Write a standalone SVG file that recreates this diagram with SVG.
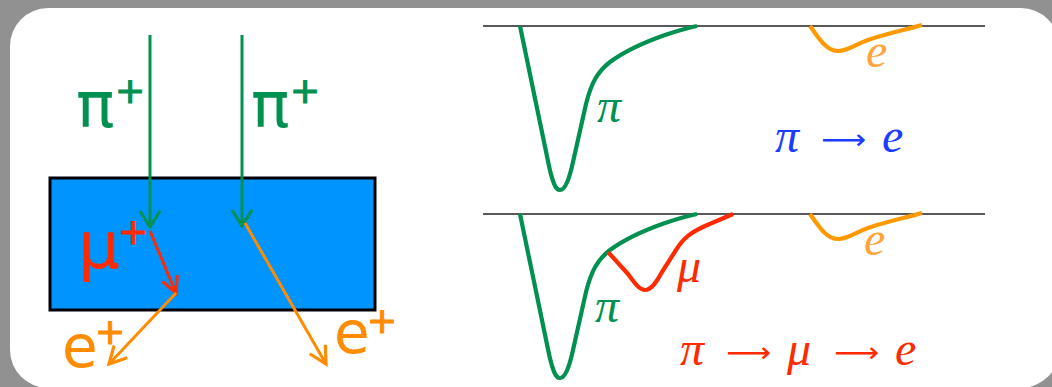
<svg xmlns="http://www.w3.org/2000/svg" width="1052" height="387" viewBox="0 0 1052 387">
<style>
.sans{font-family:"DejaVu Sans","Liberation Sans",sans-serif;}
.big{font-size:64px;}
.sup{font-size:36px;stroke-width:1.2px;}
.math{font-family:"Liberation Serif","DejaVu Serif",serif;font-style:italic;font-size:48px;}
.arr{font-family:"DejaVu Sans","Liberation Sans",sans-serif;font-size:28px;}
.g{fill:#009150;stroke:#009150;stroke-width:0;}
.r{fill:#ff2a00;stroke:#ff2a00;stroke-width:0;}
.o{fill:#ff8c00;stroke:#ff8c00;stroke-width:0;}
.ol{fill:#ffa43a;}
.b{fill:#1a3cff;}
.sup.g,.sup.r,.sup.o{stroke-width:1.2px;}
.curve{fill:none;stroke-width:4.2;stroke-linejoin:round;stroke-linecap:butt;}
.base{stroke:#222;stroke-width:1.3;}
</style>
<defs>
<marker id="mg" markerUnits="userSpaceOnUse" markerWidth="40" markerHeight="40" viewBox="-20 -20 40 40" refX="0" refY="0" orient="auto" overflow="visible">
<path d="M-16,-10 L0,0 L-16,10" fill="none" stroke="#009150" stroke-width="3.2"/>
</marker>
<marker id="mr" markerUnits="userSpaceOnUse" markerWidth="40" markerHeight="40" viewBox="-20 -20 40 40" refX="0" refY="0" orient="auto" overflow="visible">
<path d="M-16,-8 L0,0 L-16,8" fill="none" stroke="#ff2a00" stroke-width="3.2"/>
</marker>
<marker id="mo" markerUnits="userSpaceOnUse" markerWidth="40" markerHeight="40" viewBox="-20 -20 40 40" refX="0" refY="0" orient="auto" overflow="visible">
<path d="M-17,-9 L0,0 L-17,9" fill="none" stroke="#ff8c00" stroke-width="3.2"/>
</marker>
</defs>
<rect x="0" y="0" width="1052" height="387" fill="#919191"/>
<rect x="10" y="8" width="1049" height="380" rx="38" fill="#ffffff"/>

<g id="target">
<rect x="50" y="178" width="325" height="132" fill="#0094ff" stroke="#000" stroke-width="3"/>
</g>

<g id="labels-left">
<text class="sans big g" x="76" y="127">π</text><text class="sans sup g" x="115" y="103">+</text>
<text class="sans big g" x="251" y="127">π</text><text class="sans sup g" x="290" y="103">+</text>
<text class="sans r" style="font-size:66px" x="78" y="268">μ</text><text class="sans sup r" x="118" y="244">+</text>
<text class="sans o" style="font-size:58px" x="62" y="367">e</text><text class="sans sup o" x="95" y="344">+</text>
<text class="sans o" style="font-size:58px" x="334" y="353">e</text><text class="sans sup o" x="367" y="333">+</text>
</g>

<g id="connectors">
<line x1="150" y1="35" x2="150" y2="227" stroke="#009150" stroke-width="3" marker-end="url(#mg)"/>
<line x1="242" y1="35" x2="242" y2="226" stroke="#009150" stroke-width="3" marker-end="url(#mg)"/>
<line x1="150" y1="231" x2="176" y2="293" stroke="#ff2a00" stroke-width="3" marker-end="url(#mr)"/>
<line x1="176" y1="293" x2="109" y2="364" stroke="#ff8c00" stroke-width="3" marker-end="url(#mo)"/>
<line x1="245" y1="223" x2="326" y2="364" stroke="#ff8c00" stroke-width="3" marker-end="url(#mo)"/>
</g>

<g id="trace-pi-e">
<line class="base" x1="483" y1="26" x2="985" y2="26"/>
<path class="curve" stroke="#009150" d="M520,26 L549,166 C553,184 556,190 560,190 C565,190 569,180 573,162 L586,104 C591,84 597,72 610,62 C625,51 645,42 665,35 C677,31 687,28 697,26"/>
<path class="curve" stroke="#ff9900" d="M810,26 C818,37 826,51 838,51 C848,51 856,44 868,40 C885,34 905,30 922,25"/>
<text class="math g" x="597" y="122">π</text>
<text class="math ol" x="866" y="67">e</text>
<text class="math b" x="775" y="152">π</text>
<text class="arr b" x="821" y="149" textLength="45" lengthAdjust="spacingAndGlyphs">⟶</text>
<text class="math b" x="882" y="152">e</text>
</g>

<g id="trace-pi-mu-e">
<line class="base" x1="483" y1="214" x2="985" y2="214"/>
<path class="curve" stroke="#009150" d="M520,214 L549,354 C553,372 556,378 560,378 C565,378 569,368 573,350 L586,292 C591,272 597,260 610,250 C625,239 645,230 665,223 C677,219 687,216 697,214"/>
<path class="curve" stroke="#ff2a00" d="M608,252 L628,274 C636,285 640,290 645,290 C651,290 656,283 662,272 L676,250 C684,237 692,232 705,226 L733,214"/>
<path class="curve" stroke="#ff9900" d="M810,214 C818,225 826,239 838,239 C848,239 856,232 868,228 C885,222 905,218 922,213"/>
<text class="math g" x="595" y="322">π</text>
<text class="math r" x="677" y="282">μ</text>
<text class="math ol" x="864" y="255">e</text>
<text class="math r" x="680" y="365">π</text>
<text class="arr r" x="726" y="362" textLength="45" lengthAdjust="spacingAndGlyphs">⟶</text>
<text class="math r" x="787" y="365">μ</text>
<text class="arr r" x="834" y="362" textLength="45" lengthAdjust="spacingAndGlyphs">⟶</text>
<text class="math r" x="895" y="365">e</text>
</g>
</svg>
